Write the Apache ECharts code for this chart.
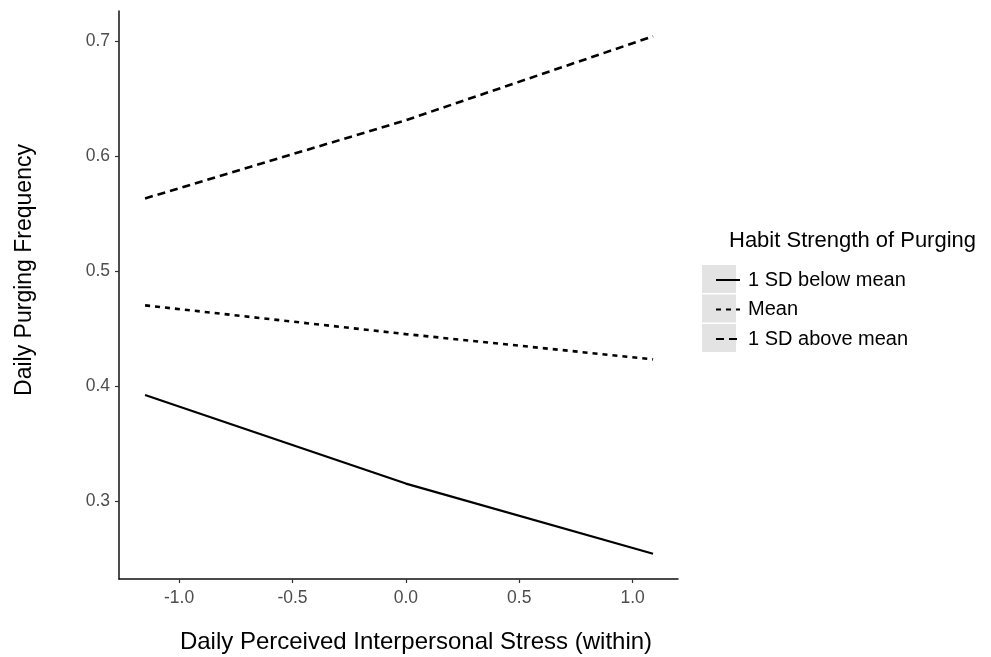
<!DOCTYPE html>
<html>

<head>
    <meta charset="UTF-8">
    <title>Habit strength of purging</title>
    <script src="https://cdn.jsdelivr.net/npm/echarts@6/dist/echarts.min.js"></script>
    <style>
        html, body {
            margin: 0;
            padding: 0;
            background: #fff;
        }

        #chart {
            width: 991px;
            height: 657px;
        }
    </style>
</head>

<body>
    <div id="chart"></div>

    <script type="text/javascript">
        // stress values (within-person) where each line is evaluated
        var stressX = [-1.15, 0, 1.09];

        // predicted daily purging frequency, one array per habit level
        var belowMean = [0.392, 0.315, 0.254];
        var atMean = [0.470, 0.445, 0.423];
        var aboveMean = [0.563, 0.631, 0.704];

        var seriesNames = ['1 SD below mean', 'Mean', '1 SD above mean'];

        var xTicks = [-1.0, -0.5, 0.0, 0.5, 1.0];
        var yTicks = [0.3, 0.4, 0.5, 0.6, 0.7];

        var font = "'Liberation Sans', Arial, sans-serif";

        function pairs(ys) {
            var out = [];
            for (var i = 0; i < stressX.length; i++) {
                out.push([stressX[i], ys[i]]);
            }
            return out;
        }

        function lineSeries(name, ys, width, dash) {
            return {
                name: name,
                type: 'line',
                data: pairs(ys),
                showSymbol: false,
                symbol: 'none',
                silent: true,
                itemStyle: { color: '#000' },
                lineStyle: { color: '#000', width: width, type: dash }
            };
        }

        var chart = echarts.init(document.getElementById('chart'));

        var option = {
            animation: false,
            color: ['#000', '#000', '#000'],
            textStyle: { fontFamily: font },
            title: {
                text: 'Habit Strength of Purging',
                left: 729,
                top: 230,
                padding: 0,
                textStyle: { fontFamily: font, fontSize: 22, fontWeight: 'normal', color: '#000' }
            },
            legend: {
                orient: 'vertical',
                left: 710,
                top: 265,
                z: 10,
                itemWidth: 24,
                itemHeight: 14,
                itemGap: 9.5,
                data: seriesNames,
                itemStyle: { opacity: 0 },
                textStyle: { fontFamily: font, fontSize: 20, color: '#000', lineHeight: 20, padding: [0, 0, 0, 3] }
            },
            // grey key backgrounds like ggplot's legend keys
            graphic: [
                { type: 'rect', z: 0, shape: { x: 702, y: 265, width: 34, height: 28 }, style: { fill: '#e3e3e3' } },
                { type: 'rect', z: 0, shape: { x: 702, y: 294.5, width: 34, height: 28 }, style: { fill: '#e3e3e3' } },
                { type: 'rect', z: 0, shape: { x: 702, y: 324, width: 34, height: 28 }, style: { fill: '#e3e3e3' } }
            ],
            grid: {
                left: 119,
                right: 313,
                top: 11,
                bottom: 78,
                containLabel: false,
                outerBoundsMode: 'none'
            },
            xAxis: {
                type: 'value',
                min: -1.265,
                max: 1.2,
                name: 'Daily Perceived Interpersonal Stress (within)',
                nameLocation: 'middle',
                nameGap: 51,
                nameTextStyle: { fontFamily: font, fontSize: 24, color: '#000', padding: [0, 0, 0, 35] },
                axisLine: { show: true, onZero: false, lineStyle: { color: '#111', width: 1.5 } },
                axisTick: { show: true, length: 4, customValues: xTicks, lineStyle: { color: '#333', width: 1.2 } },
                axisLabel: {
                    customValues: xTicks,
                    margin: 10,
                    fontSize: 17.5,
                    color: '#4d4d4d',
                    formatter: function (v) { return v.toFixed(1); }
                },
                splitLine: { show: false }
            },
            yAxis: {
                type: 'value',
                min: 0.232,
                max: 0.726,
                name: 'Daily Purging Frequency',
                nameLocation: 'middle',
                nameRotate: 90,
                nameGap: 83,
                nameTextStyle: { fontFamily: font, fontSize: 23, color: '#000', padding: [0, 0, 0, 50] },
                axisLine: { show: true, onZero: false, lineStyle: { color: '#111', width: 1.5 } },
                axisTick: { show: true, length: 4, customValues: yTicks, lineStyle: { color: '#333', width: 1.2 } },
                axisLabel: {
                    customValues: yTicks,
                    margin: 9,
                    fontSize: 17.5,
                    color: '#4d4d4d',
                    formatter: function (v) { return v.toFixed(1); }
                },
                splitLine: { show: false }
            },
            series: [
                lineSeries(seriesNames[0], belowMean, 2.2, 'solid'),
                lineSeries(seriesNames[1], atMean, 2.6, [5, 5]),
                lineSeries(seriesNames[2], aboveMean, 2.6, [8, 5])
            ]
        };

        chart.setOption(option);
    </script>

</body>

</html>
